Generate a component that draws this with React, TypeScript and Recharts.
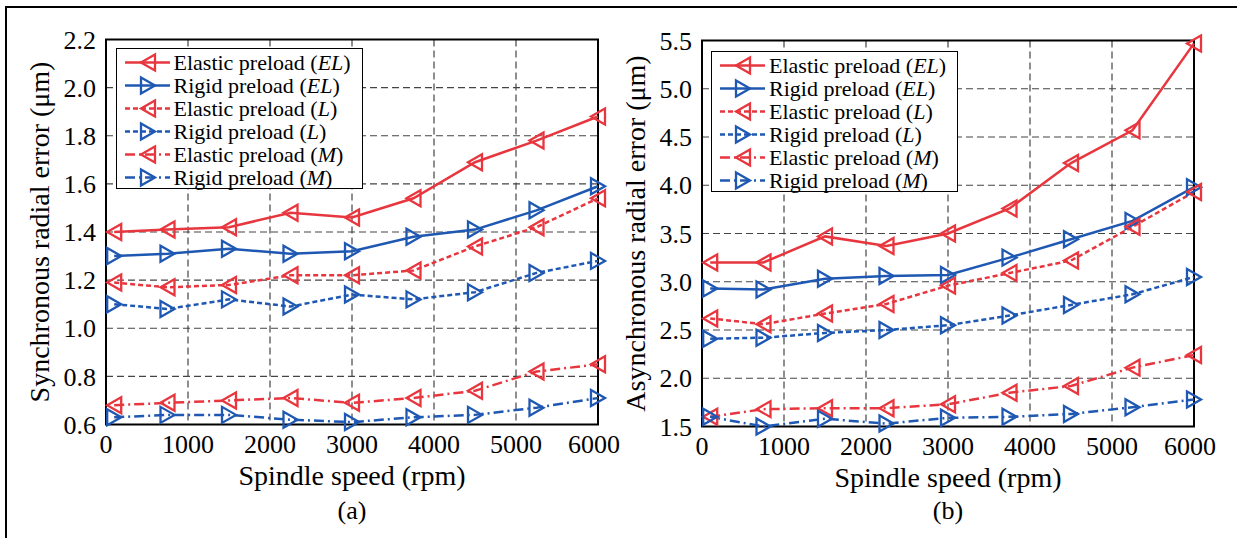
import React from "react";
import {
  LineChart,
  Line,
  XAxis,
  YAxis,
  CartesianGrid,
  ReferenceArea,
} from "recharts";

// spindle speeds (rpm)
const speeds = [100, 750, 1500, 2250, 3000, 3750, 4500, 5250, 6000];
const xTicks = [0, 1000, 2000, 3000, 4000, 5000, 6000];

// (a) synchronous radial error (um)
const syncElasticEL = [1.4, 1.41, 1.42, 1.48, 1.46, 1.54, 1.69, 1.78, 1.88];
const syncRigidEL = [1.3, 1.31, 1.33, 1.31, 1.32, 1.38, 1.41, 1.49, 1.59];
const syncElasticL = [1.19, 1.17, 1.18, 1.22, 1.22, 1.24, 1.34, 1.42, 1.54];
const syncRigidL = [1.1, 1.08, 1.12, 1.09, 1.14, 1.12, 1.15, 1.23, 1.28];
const syncElasticM = [0.68, 0.69, 0.7, 0.71, 0.69, 0.71, 0.74, 0.82, 0.85];
const syncRigidM = [0.63, 0.64, 0.64, 0.62, 0.61, 0.63, 0.64, 0.67, 0.71];
const syncTicks = [0.6, 0.8, 1.0, 1.2, 1.4, 1.6, 1.8, 2.0, 2.2];

// (b) asynchronous radial error (um)
const asyncElasticEL = [3.2, 3.2, 3.47, 3.37, 3.5, 3.76, 4.23, 4.57, 5.47];
const asyncRigidEL = [2.93, 2.92, 3.03, 3.06, 3.07, 3.25, 3.44, 3.63, 3.98];
const asyncElasticL = [2.62, 2.56, 2.67, 2.77, 2.96, 3.09, 3.22, 3.57, 3.93];
const asyncRigidL = [2.41, 2.42, 2.47, 2.5, 2.55, 2.65, 2.76, 2.87, 3.05];
const asyncElasticM = [1.6, 1.68, 1.69, 1.69, 1.73, 1.85, 1.92, 2.11, 2.24];
const asyncRigidM = [1.6, 1.5, 1.58, 1.53, 1.59, 1.6, 1.63, 1.7, 1.78];
const asyncTicks = [1.5, 2.0, 2.5, 3.0, 3.5, 4.0, 4.5, 5.0, 5.5];

const RED = "#e8363f";
const BLUE = "#1f58b2";
const FONT = "'Liberation Serif', 'Times New Roman', serif";

const series = [
  { key: "eEL", name: "Elastic preload", tag: "EL", color: RED, dash: undefined, dir: "left" },
  { key: "rEL", name: "Rigid preload", tag: "EL", color: BLUE, dash: undefined, dir: "right" },
  { key: "eL", name: "Elastic preload", tag: "L", color: RED, dash: "5 3", dir: "left" },
  { key: "rL", name: "Rigid preload", tag: "L", color: BLUE, dash: "5 3", dir: "right" },
  { key: "eM", name: "Elastic preload", tag: "M", color: RED, dash: "10 4 2 4", dir: "left" },
  { key: "rM", name: "Rigid preload", tag: "M", color: BLUE, dash: "10 4 2 4", dir: "right" },
];

const triPoints = (cx: number, cy: number, dir: string) =>
  dir === "left"
    ? `${cx - 7},${cy} ${cx + 7},${cy - 8} ${cx + 7},${cy + 8}`
    : `${cx + 7},${cy} ${cx - 7},${cy - 8} ${cx - 7},${cy + 8}`;

const makeDot = (dir: string, color: string) => (p: any) => {
  const { cx, cy, index } = p;
  if (cx == null || cy == null) return <g key={`n${index}`} />;
  return (
    <polygon
      key={`d${index}`}
      points={triPoints(cx, cy, dir)}
      fill="none"
      stroke={color}
      strokeWidth={2.3}
    />
  );
};

const LegendBox = ({ left, top }: { left: number; top: number }) => (
  <div
    style={{
      position: "absolute",
      left,
      top,
      width: 247,
      height: 141,
      boxSizing: "border-box",
      border: "1.5px solid #000",
      background: "#fff",
      paddingTop: 2,
      fontFamily: FONT,
      fontSize: 22,
      lineHeight: "23px",
      color: "#000",
    }}
  >
    {series.map((s) => (
      <div
        key={s.key}
        style={{ display: "flex", alignItems: "center", height: 23, whiteSpace: "nowrap" }}
      >
        <svg width={48} height={23} style={{ marginLeft: 7, flex: "none" }}>
          <line
            x1={1}
            x2={46}
            y1={11.5}
            y2={11.5}
            stroke={s.color}
            strokeWidth={2.5}
            strokeDasharray={s.dash}
          />
          <polygon
            points={triPoints(24, 11.5, s.dir)}
            fill="none"
            stroke={s.color}
            strokeWidth={2.3}
          />
        </svg>
        <span style={{ marginLeft: 2 }}>
          {s.name} (<i>{s.tag}</i>)
        </span>
      </div>
    ))}
  </div>
);

type PanelProps = {
  left: number;
  top: number;
  bottom: number;
  values: number[][];
  yTicks: number[];
  yLabel: string;
  caption: string;
};

const Panel = ({ left, top, bottom, values, yTicks, yLabel, caption }: PanelProps) => {
  const data = speeds.map((s, i) => {
    const row: any = { speed: s };
    series.forEach((ser, k) => {
      row[ser.key] = values[k][i];
    });
    return row;
  });
  const yMin = yTicks[0];
  const yMax = yTicks[yTicks.length - 1];
  return (
    <>
      <div style={{ position: "absolute", left, top: 0 }}>
        <LineChart
          width={648}
          height={538}
          data={data}
          margin={{ top, right: 22, bottom: 538 - bottom - 30, left: 0 }}
          style={{ fontFamily: FONT }}
        >
          <CartesianGrid stroke="#444" strokeDasharray="7 4" strokeWidth={1.2} />
          <XAxis
            dataKey="speed"
            type="number"
            domain={[0, 6000]}
            ticks={xTicks}
            height={30}
            axisLine={false}
            tickLine={false}
            tickSize={0}
            tickMargin={10.5}
            tick={{ fill: "#000", fontSize: 26, fontFamily: FONT }}
            label={{
              value: "Spindle speed (rpm)",
              position: "bottom",
              offset: 10.5,
              fill: "#000",
              fontSize: 28,
              fontFamily: FONT,
            }}
          />
          <YAxis
            type="number"
            domain={[yMin, yMax]}
            ticks={yTicks}
            width={134}
            axisLine={false}
            tickLine={false}
            tickSize={0}
            tickMargin={10}
            tickFormatter={(v: number) => v.toFixed(1)}
            tick={{ fill: "#000", fontSize: 26, fontFamily: FONT }}
            label={{
              value: yLabel,
              angle: -90,
              position: "center",
              fill: "#000",
              fontSize: 28,
              fontFamily: FONT,
            }}
          />
          <ReferenceArea
            x1={0}
            x2={6000}
            y1={yMin}
            y2={yMax}
            fill="none"
            fillOpacity={0}
            stroke="#000"
            strokeWidth={2}
            ifOverflow="visible"
          />
          {series.map((s) => (
            <Line
              key={s.key}
              type="linear"
              dataKey={s.key}
              stroke={s.color}
              strokeWidth={2.5}
              strokeDasharray={s.dash}
              dot={makeDot(s.dir, s.color)}
              activeDot={false}
              isAnimationActive={false}
            />
          ))}
        </LineChart>
      </div>
      <div
        style={{
          position: "absolute",
          left: left + 134,
          top: 498,
          width: 492,
          textAlign: "center",
          fontFamily: FONT,
          fontSize: 26,
          lineHeight: "26px",
          color: "#000",
        }}
      >
        {caption}
      </div>
    </>
  );
};

export default function App() {
  return (
    <div
      style={{
        position: "absolute",
        left: 0,
        top: 0,
        width: 1237,
        height: 538,
        background: "#fff",
        overflow: "hidden",
      }}
    >
      <div
        style={{
          position: "absolute",
          left: 5,
          top: 6,
          width: 1240,
          height: 540,
          borderTop: "2px solid #000",
          borderLeft: "2px solid #000",
        }}
      />
      <Panel
        left={-28}
        top={39.5}
        bottom={424.5}
        values={[syncElasticEL, syncRigidEL, syncElasticL, syncRigidL, syncElasticM, syncRigidM]}
        yTicks={syncTicks}
        yLabel="Synchronous radial error (μm)"
        caption="(a)"
      />
      <Panel
        left={568}
        top={40.5}
        bottom={426.5}
        values={[asyncElasticEL, asyncRigidEL, asyncElasticL, asyncRigidL, asyncElasticM, asyncRigidM]}
        yTicks={asyncTicks}
        yLabel="Asynchronous radial error (μm)"
        caption="(b)"
      />
      <LegendBox left={115.5} top={47.5} />
      <LegendBox left={711} top={50.5} />
    </div>
  );
}
